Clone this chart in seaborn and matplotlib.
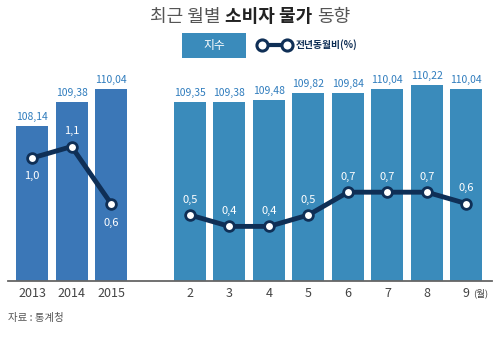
import matplotlib
matplotlib.use("Agg")
import matplotlib.pyplot as plt
import seaborn as sns
import pandas as pd
import numpy as np
from matplotlib.patches import Rectangle
from matplotlib.lines import Line2D

# ---- data ----
annual_labels = ["2013", "2014", "2015"]
annual_index = [108.14, 109.38, 110.04]
annual_yoy = [1.0, 1.1, 0.6]

month_labels = ["2", "3", "4", "5", "6", "7", "8", "9"]
month_index = [109.35, 109.38, 109.48, 109.82, 109.84, 110.04, 110.22, 110.04]
month_yoy = [0.5, 0.4, 0.4, 0.5, 0.7, 0.7, 0.7, 0.6]

title_parts = ["최근 월별", "소비자 물가", "동향"]
legend_bar = "지수"
legend_line = "전년동월비(%)"
source = "자료 : 통계청"
month_unit = "(월)"

# ---- styling ----
sns.set_theme(style="white")
plt.rcParams["font.family"] = ["Noto Sans CJK KR", "DejaVu Sans"]

C_ANNUAL = "#3b77b7"
C_MONTH = "#3a8bbb"
C_LINE = "#0f2f56"
C_LABEL = "#2f7cbd"
C_TEXT = "#444444"

W, H = 500, 349
fig = plt.figure(figsize=(W / 100, H / 100), dpi=100)
fig.patch.set_facecolor("white")

def fx(px):
    return px / W

def fy(py):
    return 1 - py / H

ax_l, ax_r, ax_b, ax_t = 8, 492, 281, 75
ax = fig.add_axes([fx(ax_l), fy(ax_b), (ax_r - ax_l) / W, (ax_b - ax_t) / H])

pos_annual = list(range(len(annual_labels)))
pos_month = [len(annual_labels) + 1 + i for i in range(len(month_labels))]

df = pd.DataFrame({
    "pos": pos_annual + pos_month,
    "index": annual_index + month_index,
    "yoy": annual_yoy + month_yoy,
    "group": ["annual"] * len(annual_labels) + ["month"] * len(month_labels),
    "label": annual_labels + month_labels,
})

sns.barplot(data=df, x="pos", y="index", hue="group", native_scale=True,
            palette={"annual": C_ANNUAL, "month": C_MONTH}, dodge=False,
            width=0.81, legend=False, ax=ax, linewidth=0, saturation=1)

ax.set_ylim(100.19, 110.75)
ax.set_xlim(-0.61, 11.65)
for s in ["top", "right", "left"]:
    ax.spines[s].set_visible(False)
ax.spines["bottom"].set_color("#666666")
ax.spines["bottom"].set_linewidth(1.3)
ax.set_yticks([])
ax.set_xticks(df["pos"])
ax.set_xticklabels(df["label"], fontsize=9, color=C_TEXT)
ax.tick_params(axis="x", length=0, pad=4)
ax.set_xlabel("")
ax.set_ylabel("")

# value labels above bars
for p, v in zip(df["pos"], df["index"]):
    ax.annotate(f"{v:.2f}".replace(".", ","), (p, v), xytext=(0, 3),
                textcoords="offset points", ha="center", va="bottom",
                fontsize=7.5, color=C_LABEL)

# line on secondary axis
ax2 = ax.twinx()
ax2.axis("off")
for g in ["annual", "month"]:
    sub = df[df["group"] == g]
    sns.lineplot(data=sub, x="pos", y="yoy", ax=ax2, color=C_LINE, linewidth=3.5,
                 marker="o", markersize=7, markerfacecolor="white",
                 markeredgecolor=C_LINE, markeredgewidth=2, legend=False)
ax2.set_xlim(ax.get_xlim())
ax2.set_ylim(-0.079, 1.728)

# yoy labels (white, on bars)
offsets = {0: -13, 1: 11, 2: -14}
for i, (p, v) in enumerate(zip(df["pos"], df["yoy"])):
    dy = offsets.get(i, 11)
    ax2.annotate(f"{v:.1f}".replace(".", ","), (p, v), xytext=(0, dy),
                 textcoords="offset points", ha="center", va="center",
                 fontsize=8, color="white")

# month unit
ax.annotate(month_unit, (pos_month[-1], 0), xycoords=("data", "axes fraction"),
            xytext=(10, -9), textcoords="offset points", ha="center", va="center",
            fontsize=6.8, color=C_TEXT)

# title: three pieces laid out side by side, centred
weights = ["normal", "bold", "normal"]
colors = ["#555555", "#222222", "#555555"]
renderer = fig.canvas.get_renderer()
texts = []
for t, w, c in zip(title_parts, weights, colors):
    texts.append(fig.text(0, fy(17), t, ha="left", va="center", fontsize=13,
                          fontweight=w, color=c))
gap = 5
widths = [tt.get_window_extent(renderer).width for tt in texts]
total = sum(widths) + gap * (len(widths) - 1)
x = 250 - total / 2
for tt, wdt in zip(texts, widths):
    tt.set_x(fx(x))
    x += wdt + gap

# legend
fig.patches.append(Rectangle((fx(182), fy(58)), (246 - 182) / W, 25 / H,
                             transform=fig.transFigure, facecolor=C_MONTH,
                             edgecolor="none"))
fig.text(fx(214), fy(45.5), legend_bar, ha="center", va="center",
         fontsize=8.5, color="white")
fig.lines.append(Line2D([fx(262), fx(287)], [fy(45), fy(45)],
                        transform=fig.transFigure, color=C_LINE, linewidth=3,
                        marker="o", markersize=8, markerfacecolor="white",
                        markeredgecolor=C_LINE, markeredgewidth=2.2))
fig.text(fx(296), fy(45), legend_line, ha="left", va="center",
         fontsize=7, color=C_LINE, fontweight="bold")

# source
fig.text(fx(8), fy(318), source, ha="left", va="center", fontsize=7.5,
         color="#555555")

fig.savefig("out.png", dpi=100, facecolor="white")
